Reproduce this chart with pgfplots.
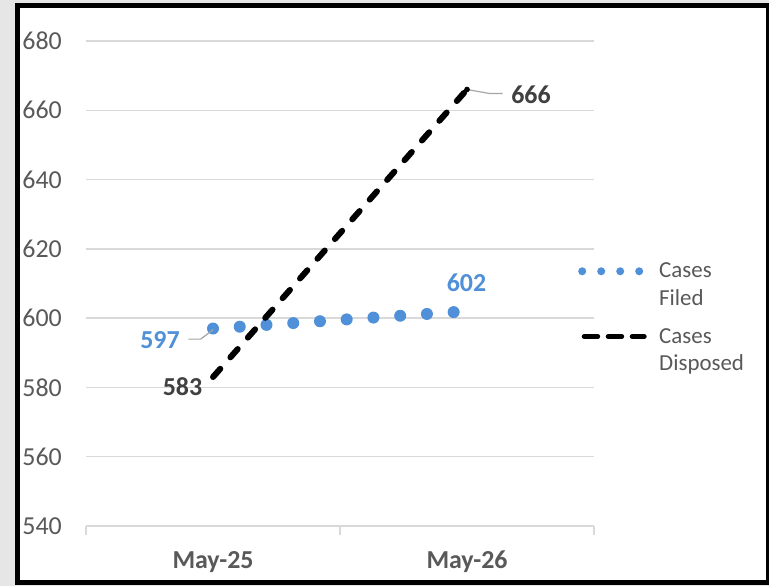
\documentclass[border=0pt]{standalone}
\usepackage{pgfplots}
\pgfplotsset{compat=1.18}
\usepackage{fontspec}
\setmainfont{Carlito}
\definecolor{filed}{HTML}{4F90D8}
\definecolor{gridgray}{HTML}{D9D9D9}
\definecolor{ticktext}{HTML}{595959}
\definecolor{labdark}{HTML}{404040}
\definecolor{leader}{HTML}{A6A6A6}
\definecolor{bggray}{HTML}{E6E6E6}
\begin{document}
\begin{tikzpicture}[x=1bp,y=1bp]
% slide background and chart frame
\fill[bggray] (0,0) rectangle (769,586);
\fill[white] (17,3) rectangle (768,580.5);
\draw[line width=5bp] (17,3) rectangle (768,580.5);
\begin{axis}[
  at={(86bp,60bp)}, anchor=south west,
  scale only axis, width=508bp, height=485bp,
  xmin=-0.5, xmax=1.5, ymin=540, ymax=680,
  xtick={0,1}, xticklabels={May-25,May-26},
  minor xtick={-0.5,0.5,1.5},
  ytick={540,560,...,680},
  axis x line*=bottom, axis y line*=left,
  x axis line style={gridgray, line width=1.5bp},
  y axis line style={draw=none},
  ymajorgrids,
  major grid style={gridgray, line width=1.5bp},
  tick align=outside,
  major tick length=0pt, minor tick length=9bp,
  minor tick style={gridgray, line width=1.5bp},
  /pgf/number format/assume math mode=true,
  yticklabel style={anchor=east, inner sep=0pt, xshift=-24bp, text=ticktext,
    font=\fontsize{26}{30}\selectfont},
  xticklabel style={anchor=base, inner sep=0pt, yshift=-43bp, text=ticktext,
    font=\bfseries\fontsize{26}{30}\selectfont},
  legend style={at={(0.9685,0.547)}, anchor=north west, draw=none, fill=none,
    font=\fontsize{23}{27.5}\selectfont, text=ticktext,
    cells={anchor=west, align=left}, row sep=17.5bp, inner sep=0pt},
  legend cell align=left,
]
\addplot[filed, line width=12bp, line cap=round, dash pattern=on 0pt off 26.8bp,
  legend image code/.code={\draw[filed, line width=8bp, line cap=round,
    dash pattern=on 0pt off 19bp] (0bp,13.5bp) -- (58bp,13.5bp);
    \path (69bp,13.5bp);}]
  coordinates {(0,597) (1,602)}
  node[pos=0, xshift=-53bp, yshift=-11.6bp, inner sep=0pt, text=filed,
    font=\bfseries\fontsize{26}{30}\selectfont] {597}
  node[pos=1, xshift=-0.5bp, yshift=28bp, inner sep=0pt, text=filed,
    font=\bfseries\fontsize{26}{30}\selectfont] {602};
\addlegendentry{Cases\\Filed}
\addplot[black, line width=6bp, line cap=round, dash pattern=on 11bp off 15.3bp,
  mark=*, mark indices={2}, mark size=2.5bp, mark options={solid, line width=0.5bp},
  legend image code/.code={\draw[black, line width=5bp, line cap=round,
    dash pattern=on 13.5bp off 10.5bp] (2bp,13.5bp) -- (62bp,13.5bp);
    \path (69bp,13.5bp);}]
  coordinates {(0,583) (1,666)}
  node[pos=0, xshift=-30.5bp, yshift=-9.4bp, inner sep=0pt, text=labdark,
    font=\bfseries\fontsize{26}{30}\selectfont] {583}
  node[pos=1, xshift=64bp, yshift=-5.3bp, inner sep=0pt, text=labdark,
    font=\bfseries\fontsize{26}{30}\selectfont] {666};
\addlegendentry{Cases\\Disposed}
% leader lines of the data labels
\draw[leader, line width=1.2bp] (axis cs:0,597) ++(-24.7bp,-10.6bp) -- ++(12.4bp,0bp) -- ++(12.6bp,9.6bp);
\draw[leader, line width=1.2bp] (axis cs:1,666) -- ++(23bp,-4.1bp) -- ++(12.7bp,0bp);
\end{axis}
\pgfresetboundingbox
\path (0,0) (769,586);
\end{tikzpicture}
\end{document}
